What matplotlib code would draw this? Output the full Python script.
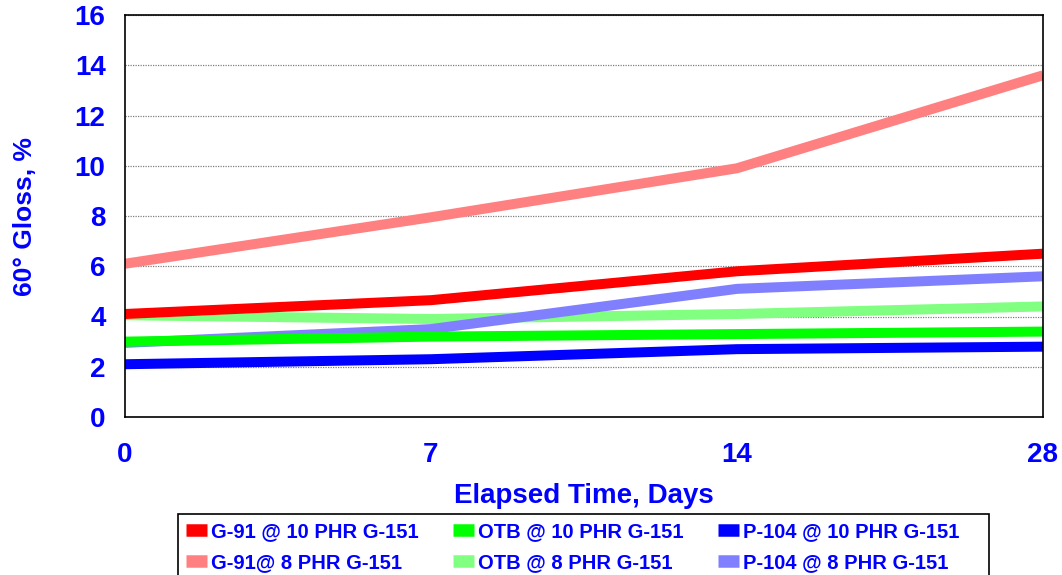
import matplotlib
matplotlib.use("Agg")
import matplotlib.pyplot as plt
from matplotlib.patches import Rectangle

plt.rcParams['font.family'] = ['Liberation Sans', 'DejaVu Sans']
plt.rcParams['font.weight'] = 'bold'

days = ['0', '7', '14', '28']
g91_10 = [4.1, 4.65, 5.8, 6.5]
otb_10 = [3.0, 3.2, 3.3, 3.4]
p104_10 = [2.1, 2.3, 2.7, 2.8]
g91_8 = [6.1, 7.95, 9.9, 13.6]
otb_8 = [4.05, 3.9, 4.1, 4.4]
p104_8 = [2.95, 3.5, 5.1, 5.6]

labels = ['G-91 @ 10 PHR G-151', 'OTB @ 10 PHR G-151', 'P-104 @ 10 PHR G-151',
          'G-91@ 8 PHR G-151', 'OTB @ 8 PHR G-151', 'P-104 @ 8 PHR G-151']
colors = ['#FF0000', '#00FF00', '#0000FF', '#FF8080', '#80FF80', '#8080FF']
series = [g91_10, otb_10, p104_10, g91_8, otb_8, p104_8]

BLUE = '#0000FF'

fig = plt.figure(figsize=(10.62, 5.75), dpi=100)
ax = fig.add_axes([125/1062, 1-417/575, (1043-125)/1062, (417-15)/575])

x = list(range(len(days)))
handles = {}
# draw 8 PHR series first, then 10 PHR on top
for i in [3, 4, 5, 0, 1, 2]:
    ln, = ax.plot(x, series[i], color=colors[i], lw=7.2, solid_capstyle='butt',
                  solid_joinstyle='round', label=labels[i])
    handles[i] = ln

ax.set_xlim(0, 3)
ax.set_ylim(0, 16)
ax.set_yticks(range(0, 17, 2))
ax.set_xticks(x)
ax.set_xticklabels(days)
ax.tick_params(axis='both', length=0, labelsize=20, labelcolor=BLUE)
ax.tick_params(axis='x', pad=18)
ax.tick_params(axis='y', pad=14)
for lab in ax.get_xticklabels() + ax.get_yticklabels():
    lab.set_fontweight('bold')
ax.yaxis.grid(True, color='#808080', linestyle=(0, (1, 1)), linewidth=0.9)
ax.set_axisbelow(True)
for s in ax.spines.values():
    s.set_color('black')
    s.set_linewidth(1.2)

ax.set_xlabel('Elapsed Time, Days', fontsize=20, fontweight='bold', color=BLUE, labelpad=11)
ax.set_ylabel('60° Gloss, %', fontsize=19, fontweight='bold', color=BLUE, labelpad=27)

order = [0, 3, 1, 4, 2, 5]
top = 1 - 514/575
leg = fig.legend([handles[i] for i in order], [labels[i] for i in order],
                 loc='upper left', bbox_to_anchor=(178/1062, top),
                 ncol=3, fontsize=14.5, frameon=False,
                 handlelength=1.0, handletextpad=0.2, columnspacing=1.75,
                 borderaxespad=0, labelspacing=0.6, borderpad=0.42)
for t in leg.get_texts():
    t.set_color(BLUE)
    t.set_fontweight('bold')
for h in leg.legend_handles:
    h.set_linewidth(9)
    h.set_solid_capstyle('butt')

fig.patches.append(Rectangle((178/1062, -0.05), (989-178)/1062, top + 0.05,
                             transform=fig.transFigure, fill=False,
                             edgecolor='black', linewidth=1.2))

fig.savefig('out.png', dpi=100)
